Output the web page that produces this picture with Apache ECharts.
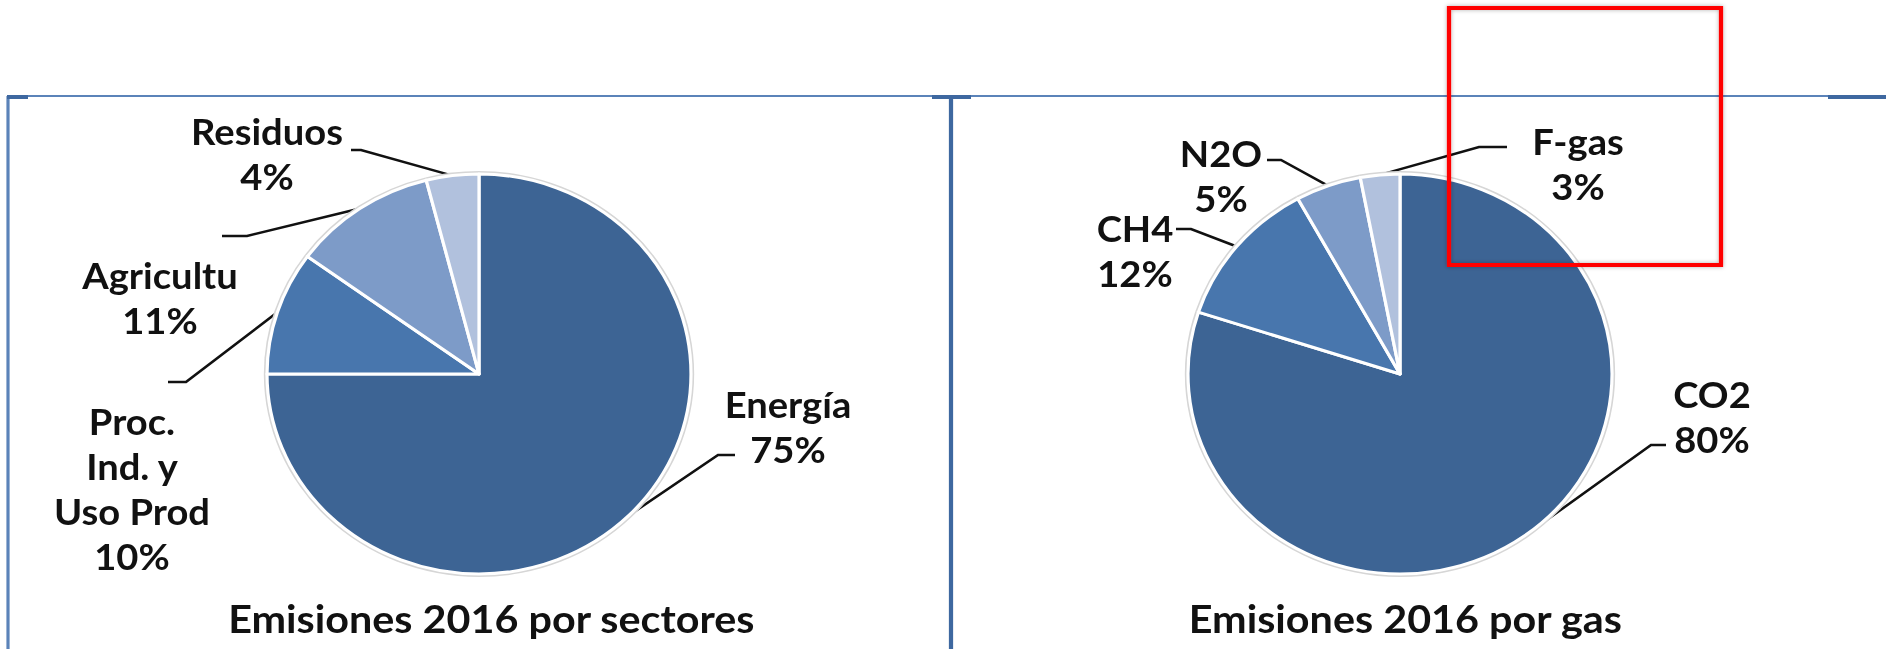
<!DOCTYPE html>
<html>
<head>
<meta charset="utf-8">
<script src="https://cdn.jsdelivr.net/npm/echarts@6/dist/echarts.min.js"></script>
<style>
html, body { margin: 0; padding: 0; background: #fff; overflow: hidden; }
/* la tarta original sale un poco estirada en horizontal */
#main { width: 1780px; height: 649px; transform: scaleX(1.06); transform-origin: 0 0; }
</style>
</head>
<body>
<div id="main"></div>
<script>
// datos de las dos tartas
var sectorNames = ['Energía', 'Proc.\nInd. y\nUso Prod', 'Agricultu', 'Residuos'];
var sectorValues = [75, 10, 11, 4];
var gasNames = ['CO2', 'CH4', 'N2O', 'F-gas'];
var gasValues = [80, 12, 5, 3];
var chartTitles = ['Emisiones 2016 por sectores', 'Emisiones 2016 por gas'];

var colores = ['#3d6494', '#4876ad', '#7d9bc8', '#b1c1dd'];
var fuente = 'Lato';
var k = 1.06; // estirado horizontal (igual que el css)

function px(x) { return x / k; }

// posicion de etiquetas (px de pantalla): [x centro, y centro, x fin linea, x codo, y linea]
var sectorLabelPos = [
	[788, 426, 735, 718, 455],
	[132, 488, 168, 186, 382],
	[160, 297, 222, 247, 236],
	[267, 153, 351, 361, 150]
];
var gasLabelPos = [
	[1712, 416, 1666, 1651, 445],
	[1135, 250, 1176, 1191, 229],
	[1221, 175, 1267, 1281, 160],
	[1578, 163, 1507, 1479, 147]
];

var centroIzq = [px(479), 374];
var centroDer = [px(1400), 374];
var radio = 200;

function datos(names, values, conColor) {
	return names.map(function(n, i) {
		var d = { name: n, value: values[i] };
		if (conColor) d.itemStyle = { color: colores[i] };
		return d;
	});
}

// contorno gris claro detras de cada tarta
function contorno(names, values, center) {
	return {
		type: 'pie',
		center: center,
		radius: radio + 3,
		startAngle: 90,
		silent: true,
		label: { show: false },
		labelLine: { show: false },
		itemStyle: { color: '#d6d6d6', borderWidth: 0 },
		emphasis: { disabled: true },
		data: datos(names, values, false)
	};
}

function tarta(names, values, center, pos) {
	return {
		type: 'pie',
		center: center,
		radius: radio,
		startAngle: 90,
		clockwise: true,
		percentPrecision: 0,
		avoidLabelOverlap: false,
		emphasis: { disabled: true },
		itemStyle: { borderColor: '#fff', borderWidth: 3 },
		label: {
			position: 'outside',
			formatter: '{b}\n{d}%',
			fontFamily: fuente,
			fontWeight: 'bold',
			fontSize: 36,
			lineHeight: 45,
			color: '#111',
			align: 'center'
		},
		labelLine: {
			show: true,
			length: 10,
			length2: 10,
			lineStyle: { color: '#111', width: 2.5 }
		},
		labelLayout: function(p) {
			var lp = pos[p.dataIndex];
			var pts = p.labelLinePoints;
			return {
				x: px(lp[0]),
				y: lp[1],
				align: 'center',
				verticalAlign: 'middle',
				labelLinePoints: [pts[0], [px(lp[3]), lp[4]], [px(lp[2]), lp[4]]]
			};
		},
		data: datos(names, values, true)
	};
}

var myChart = echarts.init(document.getElementById('main'), null, { renderer: 'svg' });

var option = {
	backgroundColor: '#fff',
	animation: false,
	title: [
		{
			text: chartTitles[0],
			left: px(486), top: 593,
			textAlign: 'center',
			textStyle: { fontFamily: fuente, fontWeight: 'bold', fontSize: 39, color: '#111' }
		},
		{
			text: chartTitles[1],
			left: px(1400), top: 593,
			textAlign: 'center',
			textStyle: { fontFamily: fuente, fontWeight: 'bold', fontSize: 39, color: '#111' }
		}
	],
	series: [
		contorno(sectorNames, sectorValues, centroIzq),
		contorno(gasNames, gasValues, centroDer),
		tarta(sectorNames, sectorValues, centroIzq, sectorLabelPos),
		tarta(gasNames, gasValues, centroDer, gasLabelPos)
	],
	graphic: [
		// marco azul
		{ type: 'line', shape: { x1: px(7), y1: 96, x2: px(1886), y2: 96 }, style: { stroke: '#5b83b9', lineWidth: 2 } },
		{ type: 'line', shape: { x1: px(8), y1: 96, x2: px(8), y2: 649 }, style: { stroke: '#5b83b9', lineWidth: 3 } },
		{ type: 'line', shape: { x1: px(951), y1: 96, x2: px(951), y2: 649 }, style: { stroke: '#3e68a0', lineWidth: 4 } },
		{ type: 'line', shape: { x1: px(7), y1: 97, x2: px(28), y2: 97 }, style: { stroke: '#3e68a0', lineWidth: 4 } },
		{ type: 'line', shape: { x1: px(932), y1: 97, x2: px(971), y2: 97 }, style: { stroke: '#3e68a0', lineWidth: 4 } },
		{ type: 'line', shape: { x1: px(1828), y1: 97, x2: px(1886), y2: 97 }, style: { stroke: '#3e68a0', lineWidth: 4 } },
		// recuadro rojo
		{
			type: 'rect', z: 100,
			shape: { x: px(1449), y: 8, width: px(1721) - px(1449), height: 257 },
			style: { fill: 'none', stroke: '#ff0000', lineWidth: 4, shadowBlur: 4, shadowColor: 'rgba(0,0,0,0.3)' }
		}
	]
};

myChart.setOption(option);
</script>
</body>
</html>
